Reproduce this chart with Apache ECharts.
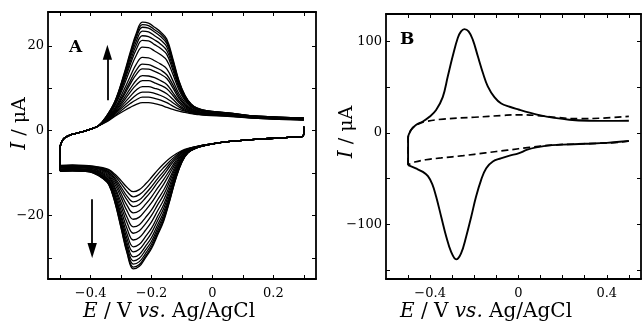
<!DOCTYPE html>
<html>
<head>
<meta charset="utf-8">
<script src="https://cdn.jsdelivr.net/npm/echarts@6/dist/echarts.min.js"></script>
<style>html,body{margin:0;padding:0;background:#fff}#c{width:642px;height:329px}</style>
</head>
<body>
<div id="c"></div>
<script>
// ---------- Panel A: repeated CV cycles (16 scans) ----------
const aXTicks = [-0.5, -0.4, -0.3, -0.2, -0.1, 0, 0.1, 0.2, 0.3];
const aXLabels = [-0.4, -0.2, 0, 0.2];
const aYTicks = [-30, -20, -10, 0, 10, 20];
const aYLabels = [-20, 0, 20];

// anodic branch, shared start
const aUpPreE = [-0.5, -0.495, -0.485, -0.47, -0.45, -0.42, -0.395, -0.375];
const aUpPreI = [-4.0, -2.6, -1.7, -1.1, -0.7, -0.1, 0.5, 1.1];
// anodic branch, per scan
const aUpE = [-0.35, -0.32, -0.29, -0.27, -0.25, -0.23, -0.21, -0.19, -0.17, -0.15, -0.13, -0.11, -0.09, -0.07, -0.05, -0.02, 0.05, 0.15, 0.3];
const aUp = [
  [2.0, 3.4, 4.7, 5.5, 6.2, 6.6, 6.6, 6.4, 6.0, 5.5, 5.0, 4.6, 4.3, 4.0, 3.8, 3.6, 3.4, 2.9, 2.5],
  [2.1, 3.6, 5.3, 6.4, 7.3, 7.9, 7.9, 7.6, 7.2, 6.6, 5.8, 5.1, 4.6, 4.2, 3.9, 3.7, 3.5, 2.9, 2.5],
  [2.2, 3.9, 5.9, 7.2, 8.4, 9.1, 9.1, 8.8, 8.3, 7.6, 6.6, 5.6, 4.8, 4.3, 4.0, 3.8, 3.5, 3.0, 2.6],
  [2.3, 4.1, 6.5, 8.1, 9.6, 10.4, 10.4, 10.0, 9.5, 8.7, 7.4, 6.0, 5.1, 4.5, 4.1, 3.8, 3.6, 3.0, 2.6],
  [2.4, 4.4, 7.1, 9.1, 10.8, 11.8, 11.8, 11.3, 10.7, 9.9, 8.3, 6.6, 5.4, 4.6, 4.2, 3.9, 3.6, 3.0, 2.6],
  [2.5, 4.6, 7.7, 9.9, 11.9, 13.0, 12.9, 12.5, 11.8, 10.9, 9.0, 7.0, 5.7, 4.8, 4.3, 4.0, 3.7, 3.1, 2.7],
  [2.6, 4.9, 8.4, 11.0, 13.3, 14.6, 14.5, 14.0, 13.3, 12.3, 10.1, 7.6, 6.0, 5.0, 4.4, 4.1, 3.7, 3.1, 2.7],
  [2.6, 5.1, 8.9, 11.7, 14.3, 15.7, 15.6, 15.0, 14.3, 13.2, 10.8, 8.1, 6.2, 5.1, 4.5, 4.1, 3.8, 3.1, 2.7],
  [2.7, 5.4, 9.7, 12.8, 15.7, 17.3, 17.2, 16.5, 15.7, 14.6, 11.8, 8.7, 6.6, 5.3, 4.6, 4.2, 3.8, 3.2, 2.8],
  [2.8, 5.9, 10.8, 14.5, 17.8, 19.7, 19.6, 18.8, 17.9, 16.6, 13.3, 9.6, 7.1, 5.6, 4.8, 4.4, 3.9, 3.2, 2.8],
  [2.9, 6.2, 11.5, 15.6, 19.2, 21.3, 21.2, 20.3, 19.4, 18.0, 14.3, 10.2, 7.4, 5.8, 5.0, 4.5, 4.0, 3.3, 2.9],
  [3.0, 6.4, 12.0, 16.3, 20.2, 22.4, 22.2, 21.4, 20.4, 18.9, 15.0, 10.6, 7.6, 5.9, 5.1, 4.5, 4.1, 3.3, 2.9],
  [3.0, 6.6, 12.5, 17.1, 21.1, 23.5, 23.3, 22.4, 21.4, 19.8, 15.7, 11.0, 7.9, 6.0, 5.1, 4.6, 4.1, 3.3, 2.9],
  [3.1, 6.8, 13.0, 17.7, 21.9, 24.4, 24.2, 23.3, 22.2, 20.6, 16.2, 11.4, 8.1, 6.2, 5.2, 4.6, 4.2, 3.4, 3.0],
  [3.2, 6.9, 13.2, 18.1, 22.5, 25.0, 24.8, 23.8, 22.8, 21.1, 16.6, 11.6, 8.2, 6.2, 5.3, 4.7, 4.2, 3.4, 3.0],
  [3.2, 7.0, 13.5, 18.5, 23.0, 25.6, 25.4, 24.4, 23.3, 21.6, 17.0, 11.8, 8.3, 6.3, 5.3, 4.7, 4.2, 3.4, 3.0]
];
// cathodic branch, shared start
const aLowPreE = [0.3, 0.298, 0.25, 0.15, 0.05, 0.01];
const aLowPreI = [0.9, -1.3, -1.6, -2.0, -2.6, -3.0];
// cathodic branch, per scan
const aLowE = [-0.02, -0.05, -0.08, -0.10, -0.12, -0.14, -0.16, -0.18, -0.20, -0.22, -0.24, -0.26, -0.28, -0.30, -0.32, -0.34, -0.36, -0.39, -0.42, -0.46, -0.5];
const aLow = [
  [-3.3, -3.7, -4.2, -4.7, -5.5, -6.5, -7.8, -9.3, -11.0, -12.6, -13.9, -14.4, -13.4, -11.8, -10.3, -9.2, -8.7, -8.4, -8.2, -8.1, -8.2],
  [-3.3, -3.7, -4.3, -4.9, -5.9, -7.2, -8.7, -10.3, -12.1, -13.8, -15.1, -15.6, -14.4, -12.5, -10.7, -9.4, -8.9, -8.5, -8.3, -8.2, -8.3],
  [-3.3, -3.7, -4.3, -5.1, -6.3, -7.8, -9.6, -11.3, -13.2, -14.9, -16.3, -16.8, -15.5, -13.3, -11.2, -9.7, -9.0, -8.6, -8.4, -8.3, -8.4],
  [-3.3, -3.8, -4.4, -5.2, -6.6, -8.4, -10.4, -12.2, -14.2, -15.9, -17.4, -17.9, -16.4, -14.0, -11.6, -9.9, -9.2, -8.7, -8.5, -8.4, -8.5],
  [-3.3, -3.8, -4.5, -5.4, -7.1, -9.3, -11.5, -13.5, -15.6, -17.4, -18.9, -19.4, -17.7, -14.9, -12.1, -10.2, -9.4, -8.8, -8.6, -8.5, -8.6],
  [-3.3, -3.8, -4.6, -5.7, -7.6, -10.1, -12.6, -14.8, -17.0, -18.8, -20.4, -20.9, -19.0, -15.8, -12.7, -10.5, -9.6, -9.0, -8.7, -8.6, -8.7],
  [-3.4, -3.8, -4.7, -5.9, -8.1, -11.1, -14.0, -16.3, -18.7, -20.5, -22.2, -22.7, -20.5, -16.9, -13.4, -10.8, -9.9, -9.1, -8.8, -8.7, -8.8],
  [-3.4, -3.9, -4.7, -6.2, -8.6, -11.9, -15.1, -17.5, -20.0, -22.0, -23.6, -24.2, -21.8, -17.8, -13.9, -11.1, -10.1, -9.3, -9.0, -8.9, -9.0],
  [-3.4, -3.9, -4.8, -6.4, -9.1, -12.8, -16.3, -18.9, -21.5, -23.5, -25.2, -25.8, -23.2, -18.8, -14.5, -11.5, -10.3, -9.4, -9.1, -9.0, -9.1],
  [-3.4, -3.9, -4.9, -6.6, -9.6, -13.6, -17.4, -20.2, -23.0, -25.0, -26.8, -27.4, -24.5, -19.8, -15.1, -11.8, -10.6, -9.5, -9.2, -9.1, -9.2],
  [-3.4, -3.9, -5.0, -6.8, -10.0, -14.3, -18.3, -21.2, -24.1, -26.2, -28.0, -28.6, -25.6, -20.5, -15.5, -12.0, -10.7, -9.7, -9.3, -9.2, -9.3],
  [-3.4, -4.0, -5.1, -7.0, -10.4, -15.0, -19.2, -22.2, -25.2, -27.3, -29.2, -29.8, -26.6, -21.3, -16.0, -12.3, -10.9, -9.8, -9.4, -9.3, -9.4],
  [-3.4, -4.0, -5.1, -7.1, -10.7, -15.5, -19.9, -23.0, -26.1, -28.2, -30.1, -30.7, -27.4, -21.8, -16.3, -12.4, -11.0, -9.8, -9.5, -9.4, -9.5],
  [-3.4, -4.0, -5.1, -7.2, -11.0, -15.9, -20.5, -23.7, -26.8, -29.0, -30.9, -31.5, -28.1, -22.3, -16.6, -12.6, -11.1, -9.9, -9.5, -9.4, -9.5],
  [-3.4, -4.0, -5.2, -7.3, -11.2, -16.3, -21.0, -24.3, -27.4, -29.6, -31.6, -32.2, -28.7, -22.8, -16.9, -12.7, -11.2, -10.0, -9.6, -9.5, -9.6],
  [-3.4, -4.0, -5.2, -7.4, -11.3, -16.5, -21.3, -24.6, -27.8, -30.0, -32.0, -32.6, -29.0, -23.0, -17.0, -12.8, -11.3, -10.0, -9.6, -9.5, -9.6]
];
// arrows in panel A (data coordinates)
const aArrowUp = [[-0.345, 7.2], [-0.345, 18.5]];
const aArrowDown = [[-0.395, -16.2], [-0.395, -28.3]];

// ---------- Panel B ----------
const bXTicks = [-0.5, -0.4, -0.3, -0.2, -0.1, 0, 0.1, 0.2, 0.3, 0.4, 0.5];
const bXLabels = [-0.4, 0, 0.4];
const bYTicks = [-150, -100, -50, 0, 50, 100];
const bYLabels = [-100, 0, 100];

const bUpE = [-0.5, -0.5, -0.486, -0.463, -0.433, -0.403, -0.373, -0.343, -0.32, -0.298, -0.275, -0.26, -0.245, -0.226, -0.207, -0.184, -0.161, -0.139, -0.109, -0.078, -0.04, 0.0, 0.05, 0.1, 0.155, 0.23, 0.32, 0.41, 0.5];
const bUpI = [-35.5, -5.5, 3.3, 8.8, 12.4, 17.5, 25, 39, 61.8, 83.7, 103.8, 111, 113.5, 111, 102, 83.7, 65.4, 50.8, 39, 32, 28.5, 25.5, 22, 19, 16.6, 14.3, 13.2, 13.0, 13.2];
const bLowE = [0.5, 0.4, 0.3, 0.2, 0.13, 0.08, 0.04, 0.0, -0.04, -0.08, -0.116, -0.146, -0.169, -0.192, -0.214, -0.237, -0.26, -0.282, -0.305, -0.327, -0.35, -0.373, -0.39, -0.41, -0.435, -0.465, -0.5];
const bLowI = [-9, -11, -12, -13, -14, -16, -18.5, -22.5, -25, -28, -31.4, -38.7, -51.5, -69.8, -91.8, -113.7, -131.9, -138.5, -130.2, -113.7, -91.8, -69.8, -56.5, -47.5, -42.5, -39, -35.5];
const bBgUpE = [-0.5, -0.5, -0.48, -0.45, -0.42, -0.34, -0.2, -0.07, 0.0, 0.08, 0.17, 0.28, 0.38, 0.5];
const bBgUpI = [-35, -5, 5, 10, 12.4, 15, 17, 19, 19.7, 19, 16.8, 15.4, 16.1, 17.9];
const bBgLowE = [0.5, 0.45, 0.35, 0.25, 0.15, 0.05, -0.05, -0.15, -0.25, -0.35, -0.42, -0.47, -0.5];
const bBgLowI = [-9, -10.5, -11.5, -12.3, -13.5, -16, -19, -22, -25, -27.5, -29.5, -32, -35];

// ---------- build ----------
const FONT = 'DejaVu Serif';
const zip = (E, I) => E.map((e, k) => [e, I[k]]);
const fmt = v => {
  const s = Math.abs(v) < 1e-9 ? '0' : String(+v.toFixed(2));
  return s.replace('-', '\u2212');
};
const nameRich = { i: { fontStyle: 'italic', fontFamily: FONT, fontSize: 20, color: '#000' } };

function xAx(grid, min, max, ticks, labels, pos, extra) {
  return Object.assign({
    type: 'value', gridIndex: grid, min: min, max: max, position: pos,
    axisLine: { show: true, onZero: false, lineStyle: { color: '#000', width: 1.8 } },
    axisTick: { show: true, inside: true, length: 4, customValues: ticks, lineStyle: { color: '#000', width: 1 } },
    axisLabel: labels ? { show: true, customValues: labels, formatter: fmt, margin: 8, color: '#000', fontFamily: FONT, fontSize: 13 } : { show: false },
    splitLine: { show: false }
  }, extra || {});
}
function yAx(grid, min, max, ticks, labels, pos, extra) {
  return Object.assign({
    type: 'value', gridIndex: grid, min: min, max: max, position: pos,
    axisLine: { show: true, onZero: false, lineStyle: { color: '#000', width: 1.8 } },
    axisTick: { show: true, inside: true, length: 4, customValues: ticks, lineStyle: { color: '#000', width: 1 } },
    axisLabel: labels ? { show: true, customValues: labels, formatter: fmt, margin: 4, color: '#000', fontFamily: FONT, fontSize: 13 } : { show: false },
    splitLine: { show: false }
  }, extra || {});
}
const xName = (padR) => ({
  name: '{i|E} / V {i|vs.} Ag/AgCl', nameLocation: 'middle', nameGap: 23, nameMoveOverlap: false,
  nameTextStyle: { fontFamily: FONT, fontSize: 20, color: '#000', rich: nameRich, padding: [0, padR, 0, 0] }
});
const yName = (gap, padL) => ({
  name: '{i|I} / \u03bcA', nameLocation: 'middle', nameGap: gap, nameMoveOverlap: false,
  nameTextStyle: { fontFamily: FONT, fontSize: 19, color: '#000', rich: nameRich, padding: [0, 0, 0, padL] }
});

const series = [];
const lineA = { color: '#000', width: 1.3 };
for (let k = 0; k < aUp.length; k++) {
  const lowEnd = aLow[k][aLow[k].length - 1];
  series.push({
    type: 'line', xAxisIndex: 0, yAxisIndex: 0, showSymbol: false, smooth: 0.4,
    lineStyle: lineA, silent: true,
    data: [[aUpPreE[0], lowEnd]].concat(zip(aUpPreE, aUpPreI), zip(aUpE, aUp[k]))
  });
  series.push({
    type: 'line', xAxisIndex: 0, yAxisIndex: 0, showSymbol: false, smooth: 0.4,
    lineStyle: lineA, silent: true,
    data: zip(aLowPreE, aLowPreI).concat(zip(aLowE, aLow[k]))
  });
}
series.push({
  type: 'line', xAxisIndex: 0, yAxisIndex: 0, data: [], silent: true,
  markLine: {
    silent: true, animation: false,
    symbol: ['none', 'path://M0,0 L5,16 L-5,16 Z M-8,0 M8,0'], symbolSize: 15,
    label: { show: false },
    lineStyle: { color: '#000', width: 1.8, type: 'solid' },
    data: [
      [{ coord: aArrowUp[0] }, { coord: aArrowUp[1] }],
      [{ coord: aArrowDown[0] }, { coord: aArrowDown[1] }]
    ]
  }
});
const lineB = { color: '#000', width: 1.9 };
const dashB = { color: '#000', width: 1.7, type: [7, 4] };
series.push({ type: 'line', xAxisIndex: 2, yAxisIndex: 2, showSymbol: false, smooth: 0.4, silent: true, lineStyle: dashB, data: zip(bBgUpE, bBgUpI) });
series.push({ type: 'line', xAxisIndex: 2, yAxisIndex: 2, showSymbol: false, smooth: 0.4, silent: true, lineStyle: dashB, data: zip(bBgLowE, bBgLowI) });
series.push({ type: 'line', xAxisIndex: 2, yAxisIndex: 2, showSymbol: false, smooth: 0.4, silent: true, lineStyle: lineB, data: zip(bUpE, bUpI) });
series.push({ type: 'line', xAxisIndex: 2, yAxisIndex: 2, showSymbol: false, smooth: 0.4, silent: true, lineStyle: lineB, data: zip(bLowE, bLowI) });

const option = {
  animation: false,
  backgroundColor: '#fff',
  title: [
    { text: 'A', left: 69, top: 39, padding: 0, textStyle: { fontFamily: FONT, fontWeight: 'bold', fontSize: 17, color: '#000' } },
    { text: 'B', left: 400, top: 31, padding: 0, textStyle: { fontFamily: FONT, fontWeight: 'bold', fontSize: 17, color: '#000' } }
  ],
  grid: [
    { left: 48, top: 12, width: 268, height: 267 },
    { left: 386, top: 14, width: 255, height: 265 }
  ],
  xAxis: [
    xAx(0, -0.54, 0.34, aXTicks, aXLabels, 'bottom', xName(26)),
    xAx(0, -0.54, 0.34, aXTicks, null, 'top'),
    xAx(1, -0.6, 0.555, bXTicks, bXLabels, 'bottom', xName(55)),
    xAx(1, -0.6, 0.555, bXTicks, null, 'top')
  ],
  yAxis: [
    yAx(0, -35, 28, aYTicks, aYLabels, 'left', yName(18, 44)),
    yAx(0, -35, 28, aYTicks, null, 'right'),
    yAx(1, -160, 130, bYTicks, bYLabels, 'left', yName(29, 29)),
    yAx(1, -160, 130, bYTicks, null, 'right')
  ],
  series: series
};
const chart = echarts.init(document.getElementById('c'), null, { renderer: 'canvas' });
chart.setOption(option);
</script>
</body>
</html>
